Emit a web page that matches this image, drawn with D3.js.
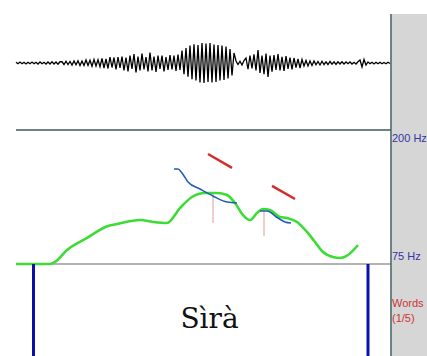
<!DOCTYPE html>
<html>
<head>
<meta charset="utf-8">
<script src="https://cdn.jsdelivr.net/npm/d3@7"></script>
<style>
  body { margin:0; background:#fff; }
  svg { display:block; }
</style>
</head>
<body>
<svg id="chart" width="427" height="356"></svg>
<script>
// sound: one sample per 4 ms, alternating peaks
var waveStart = 0.0;
var waveStep = 0.004;
var waveAmp = [
  0.03,-0.03,0.04,-0.03,0.03,-0.04,0.03,-0.03,0.04,-0.03,0.03,-0.04,0.04,-0.03,0.03,-0.04,0.04,-0.04,0.05,-0.04,0.04,-0.05,0.05,
  0.05,-0.06,0.07,-0.06,0.06,-0.08,0.08,-0.07,0.09,-0.1,0.08,-0.1,0.12,-0.1,0.11,-0.13,0.14,-0.12,0.13,-0.15,
  0.18,-0.2,0.16,-0.22,0.24,-0.18,0.22,-0.26,0.24,-0.2,
  0.26,-0.3,0.22,-0.34,0.3,-0.24,0.36,-0.38,0.26,-0.3,0.38,-0.26,0.24,-0.34,0.42,-0.3,0.26,-0.36,0.3,-0.24,0.3,-0.34,0.24,-0.28,0.32,-0.26,0.3,-0.32,0.34,-0.28,
  0.5,-0.45,0.6,-0.55,0.7,-0.65,0.75,-0.7,0.72,-0.78,0.8,-0.8,0.78,-0.76,0.8,-0.78,0.74,-0.76,0.72,-0.7,0.7,-0.68,0.66,-0.62,0.56,-0.5,0.4,
  0.08,-0.06,0.07,-0.08,0.1,
  0.2,-0.25,0.3,-0.22,0.35,-0.3,0.52,-0.4,0.3,-0.45,0.38,-0.56,0.3,-0.35,0.32,-0.28,0.36,-0.3,0.25,-0.32,0.28,-0.24,0.22,-0.26,0.2,-0.18,0.16,-0.2,
  0.14,-0.12,0.1,-0.12,0.08,-0.1,0.08,-0.07,0.06,-0.08,0.07,-0.06,0.05,-0.06,0.06,-0.05,0.05,-0.06,0.05,-0.04,0.05,-0.04,
  0.04,-0.03,0.04,-0.04,0.03,-0.04,0.05,
  0.12,-0.16,0.14,-0.08,
  0.04,-0.03,0.03,-0.04,0.03,-0.03,0.03,-0.03,0.02,-0.03,0.03,-0.02
];

// pitch contour (s, Hz)
var pitchT  = [0,0.068,0.078,0.102,0.142,0.184,0.202,0.248,0.274,0.302,0.328,0.352,0.378,0.402,0.422,0.438,0.454,0.468,0.482,0.494,0.508,0.528,0.542,0.562,0.582,0.598,0.614,0.634,0.648,0.664,0.684];
var pitchHz = [75,75,76.9,88.1,99.3,110.4,112.3,116.0,114.2,113.2,127.2,137.5,141.2,141.2,139.4,131.9,120.7,116.0,122.6,126.3,125.4,118.8,117.9,114.2,104.9,95.5,86.2,81.5,80.6,83.4,92.7];

// stylised contours (blue)
var styl1T  = [0.316,0.324,0.332,0.344,0.368,0.394,0.422,0.442];
var styl1Hz = [163.6,163.6,159.9,151.5,145.0,138.4,132.8,131.9];
var styl2T  = [0.488,0.502,0.524,0.538,0.55];
var styl2Hz = [124.4,124.4,117.9,114.2,113.2];

// target segments (red): [t0, t1, f0, f1]
var targets = [[0.384,0.432,177.6,164.6],[0.512,0.558,147.8,135.6]];

// pitch marks (pink): [t, fTop, fBottom]
var marks = [[0.394,142.2,113.2],[0.496,126.3,101.1]];

// text tier
var tierBounds = [0.035, 0.704];
var tierLabel = "Sìrà";
var tierLabelT = 0.387;
var tierName = "Words";
var tierCount = "(1/5)";
var freqTicks = [200, 75];

var svg = d3.select("#chart");

var x = d3.scaleLinear().domain([0, 0.75]).range([16, 391]);
var yWave = d3.scaleLinear().domain([-1, 1]).range([88, 38]);
var yPitch = d3.scaleLinear().domain([75, 200]).range([264, 130]);

// grey side panel
svg.append("rect").attr("x",392).attr("y",14).attr("width",35).attr("height",342).attr("fill","#d6d6d6");

// waveform
var wave = waveAmp.map(function(a,i){ return {t: waveStart + i*waveStep, a: a}; });
svg.append("path")
   .attr("d", d3.line().x(function(d){ return x(d.t); }).y(function(d){ return yWave(d.a); })(wave))
   .attr("fill","none").attr("stroke","#000").attr("stroke-width",1.3);

// frame lines
svg.append("line").attr("x1",16).attr("x2",391).attr("y1",130).attr("y2",130)
   .attr("stroke","#3d5858").attr("stroke-width",1.5);
svg.append("line").attr("x1",16).attr("x2",391).attr("y1",264).attr("y2",264)
   .attr("stroke","#9a9a9a").attr("stroke-width",1.5);
svg.append("line").attr("x1",391).attr("x2",391).attr("y1",14).attr("y2",356)
   .attr("stroke","#3d5858").attr("stroke-width",1.5);

// pitch marks
marks.forEach(function(m){
  svg.append("line").attr("x1",x(m[0])).attr("x2",x(m[0]))
     .attr("y1",yPitch(m[1])).attr("y2",yPitch(m[2]))
     .attr("stroke","#e39a9a").attr("stroke-width",1);
});

// pitch curve
var pitchLine = d3.line().x(function(d){ return x(d[0]); }).y(function(d){ return yPitch(d[1]); }).curve(d3.curveMonotoneX);
svg.append("path").attr("d", pitchLine(d3.zip(pitchT,pitchHz)))
   .attr("fill","none").attr("stroke","#3ddc35").attr("stroke-width",2.6).attr("stroke-linejoin","round");

svg.append("path").attr("d", pitchLine(d3.zip(styl1T,styl1Hz)))
   .attr("fill","none").attr("stroke","#2160b0").attr("stroke-width",1.6);
svg.append("path").attr("d", pitchLine(d3.zip(styl2T,styl2Hz)))
   .attr("fill","none").attr("stroke","#2160b0").attr("stroke-width",1.6);

targets.forEach(function(s){
  svg.append("line").attr("x1",x(s[0])).attr("x2",x(s[1]))
     .attr("y1",yPitch(s[2])).attr("y2",yPitch(s[3]))
     .attr("stroke","#d42b2b").attr("stroke-width",2.5);
});

// frequency labels
svg.selectAll("text.freq").data(freqTicks).enter().append("text")
   .attr("class","freq")
   .attr("x",392)
   .attr("y",function(d,i){ return i==0 ? yPitch(d)+12 : yPitch(d)-4; })
   .attr("font-family","Liberation Sans, Arial, sans-serif").attr("font-size",11)
   .attr("fill","#3535a5")
   .text(function(d){ return d + " Hz"; });

// tier boundaries
tierBounds.forEach(function(b){
  svg.append("line").attr("x1",x(b)).attr("x2",x(b)).attr("y1",264).attr("y2",356)
     .attr("stroke","#0b10a8").attr("stroke-width",3);
});
svg.append("text").attr("x",x(tierLabelT)).attr("y",328)
   .attr("text-anchor","middle").attr("font-family","DejaVu Serif, serif").attr("font-size",28)
   .attr("fill","#111").text(tierLabel);

svg.append("text").attr("x",392).attr("y",307)
   .attr("font-family","Liberation Sans, Arial, sans-serif").attr("font-size",11)
   .attr("fill","#cc3535").text(tierName);
svg.append("text").attr("x",392).attr("y",322)
   .attr("font-family","Liberation Sans, Arial, sans-serif").attr("font-size",11)
   .attr("fill","#cc3535").text(tierCount);
</script>
</body>
</html>
